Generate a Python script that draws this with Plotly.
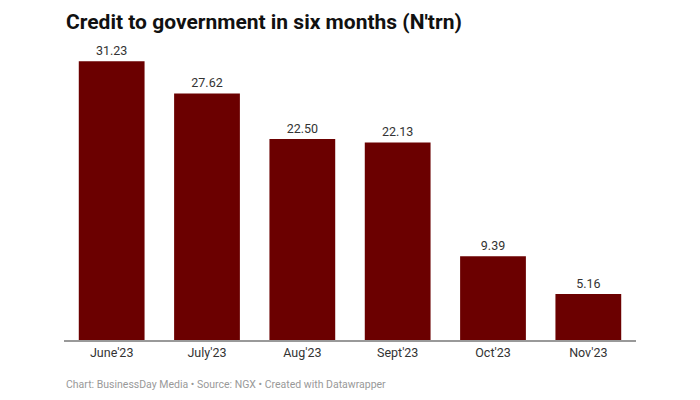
import plotly.graph_objects as go

months = ["June'23", "July'23", "Aug'23", "Sept'23", "Oct'23", "Nov'23"]
credit = [31.23, 27.62, 22.50, 22.13, 9.39, 5.16]
labels = ["31.23", "27.62", "22.50", "22.13", "9.39", "5.16"]

fig = go.Figure(go.Bar(
    x=months, y=credit, text=labels, textposition="outside",
    marker=dict(color="#6b0000", line=dict(width=0)),
    textfont=dict(family="Roboto", size=12.5, color="#333333"),
    cliponaxis=False,
))

fig.update_layout(
    width=684, height=384,
    margin=dict(l=56, r=56, t=32, b=52),
    plot_bgcolor="white", paper_bgcolor="white",
    bargap=0.31,
    showlegend=False,
    font=dict(family="Roboto", color="#333333"),
    xaxis=dict(showline=True, linecolor="#999999", linewidth=1.5, ticks="",
               tickfont=dict(family="Roboto", size=12.5, color="#333333"),
               showgrid=False),
    yaxis=dict(range=[0, 33.6], visible=False, showgrid=False),
)
fig.add_annotation(text="<b>Credit to government in six months (N'trn)</b>",
                   xref="paper", yref="paper", x=0, y=1.0, yshift=18,
                   xanchor="left", yanchor="middle", showarrow=False,
                   font=dict(family="Roboto", size=21, color="#111111"))
fig.add_annotation(text="Chart: BusinessDay Media • Source: NGX • Created with Datawrapper",
                   xref="paper", yref="paper", x=0, y=0, yshift=-44,
                   xanchor="left", yanchor="middle", showarrow=False,
                   font=dict(family="Roboto", size=10.5, color="#999999"))

fig.write_html("out.html")
